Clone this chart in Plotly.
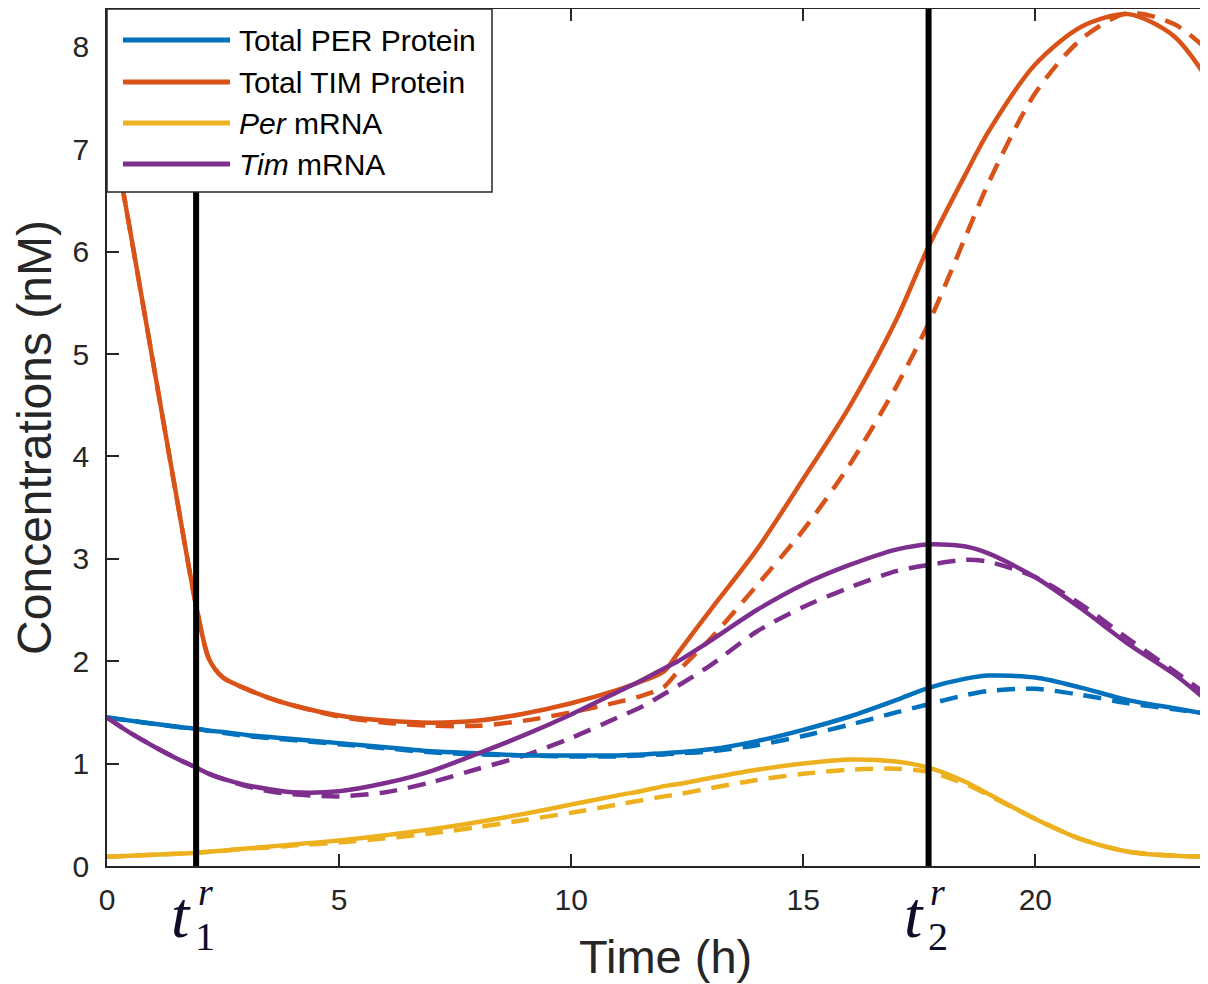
import plotly.graph_objects as go

# ---------------- data ----------------
time_h = [0, 0.5, 1, 1.5, 1.93, 2.2, 2.5, 3, 3.5, 4, 5, 6, 7, 8, 9, 10, 11, 11.5, 12, 12.3,
          13, 14, 15, 16, 17, 17.7, 18.5, 19, 20, 21, 22, 23, 24]

per_prot = [1.45, 1.42, 1.39, 1.36, 1.34, 1.32, 1.31, 1.28, 1.26, 1.24, 1.20, 1.16, 1.12, 1.10, 1.08, 1.08,
            1.08, 1.09, 1.10, 1.11, 1.14, 1.22, 1.33, 1.46, 1.62, 1.74, 1.83, 1.86, 1.84, 1.74, 1.62, 1.54, 1.46]
per_prot_fit = [1.45, 1.42, 1.39, 1.36, 1.34, 1.32, 1.30, 1.27, 1.25, 1.23, 1.19, 1.15, 1.11, 1.09, 1.08, 1.07,
                1.07, 1.08, 1.09, 1.10, 1.12, 1.18, 1.27, 1.38, 1.50, 1.58, 1.67, 1.71, 1.73, 1.67, 1.59, 1.53, 1.47]

tim_prot = [7.48, 6.20, 4.90, 3.60, 2.52, 2.02, 1.84, 1.73, 1.64, 1.57, 1.47, 1.42, 1.40, 1.42, 1.49, 1.59,
            1.72, 1.80, 1.90, 2.08, 2.50, 3.09, 3.78, 4.49, 5.33, 6.05, 6.76, 7.18, 7.83, 8.20, 8.32, 8.10, 7.48]
tim_prot_fit = [7.48, 6.20, 4.90, 3.60, 2.52, 2.02, 1.84, 1.73, 1.64, 1.57, 1.46, 1.40, 1.37, 1.37, 1.42, 1.50,
                1.60, 1.66, 1.75, 1.90, 2.22, 2.74, 3.28, 3.92, 4.68, 5.30, 6.15, 6.68, 7.55, 8.08, 8.33, 8.22, 7.85]

per_mrna = [0.09, 0.10, 0.11, 0.12, 0.13, 0.14, 0.15, 0.17, 0.19, 0.21, 0.25, 0.30, 0.36, 0.43, 0.51, 0.60,
            0.69, 0.73, 0.78, 0.80, 0.86, 0.94, 1.00, 1.04, 1.02, 0.96, 0.82, 0.70, 0.46, 0.26, 0.14, 0.10, 0.09]
per_mrna_fit = [0.09, 0.10, 0.11, 0.12, 0.13, 0.14, 0.15, 0.17, 0.18, 0.20, 0.23, 0.27, 0.32, 0.38, 0.45, 0.52,
                0.60, 0.64, 0.68, 0.70, 0.76, 0.84, 0.90, 0.94, 0.95, 0.92, 0.80, 0.69, 0.46, 0.26, 0.14, 0.10, 0.09]

tim_mrna = [1.45, 1.30, 1.17, 1.05, 0.96, 0.90, 0.85, 0.79, 0.75, 0.72, 0.73, 0.81, 0.93, 1.10, 1.28, 1.48,
            1.70, 1.81, 1.93, 2.00, 2.20, 2.50, 2.75, 2.94, 3.09, 3.14, 3.12, 3.05, 2.82, 2.51, 2.17, 1.87, 1.50]
tim_mrna_fit = [1.45, 1.30, 1.17, 1.05, 0.96, 0.90, 0.85, 0.78, 0.73, 0.70, 0.68, 0.72, 0.82, 0.95, 1.08, 1.25,
                1.45, 1.55, 1.68, 1.76, 1.96, 2.29, 2.53, 2.72, 2.88, 2.94, 2.99, 2.97, 2.82, 2.55, 2.22, 1.90, 1.58]

series_names = ["Total PER Protein", "Total TIM Protein", "<i>Per</i> mRNA", "<i>Tim</i> mRNA"]
series_colors = ["#0072BD", "#D95319", "#EDB120", "#7E2F8E"]
solid_series = [per_prot, tim_prot, per_mrna, tim_mrna]
dashed_series = [per_prot_fit, tim_prot_fit, per_mrna_fit, tim_mrna_fit]

reset_times = [1.92, 17.70]
reset_labels = ["1", "2"]

x_range = [0, 24]
y_range = [0, 8.37]
x_ticks = [0, 5, 10, 15, 20]
y_ticks = [0, 1, 2, 3, 4, 5, 6, 7, 8]
x_title = "Time (h)"
y_title = "Concentrations (nM)"

# ---------------- layout geometry ----------------
# the page body adds an 8 px offset; the axes box runs past the window's right edge
OFF = 8
PX_PER_H = 46.4
W, H = 1218, 984
ML, MT, MB = 107 - OFF, 9 - OFF, (H + OFF) - 866
MR = W - ML - int(round(PX_PER_H * x_range[1]))
PW, PH = W - ML - MR, H - MT - MB
AX = "#262626"
FONT = "Liberation Sans, Arial, sans-serif"


def px_x(sx):
    return (sx - OFF - ML) / PW


def px_y(sy):
    return (H - MB - (sy - OFF)) / PH


fig = go.Figure()

LW = 4.5
for name, col, ys in zip(series_names, series_colors, dashed_series):
    fig.add_trace(go.Scatter(x=time_h, y=ys, mode="lines", showlegend=False,
                             line=dict(color=col, width=LW, dash="18px,11px", shape="spline", smoothing=0.8)))
for name, col, ys in zip(series_names, series_colors, solid_series):
    fig.add_trace(go.Scatter(x=time_h, y=ys, mode="lines", name=name, showlegend=False,
                             line=dict(color=col, width=LW, shape="spline", smoothing=0.8)))

for t in reset_times:
    fig.add_trace(go.Scatter(x=[t, t], y=y_range, mode="lines", showlegend=False,
                             line=dict(color="black", width=6)))

shapes = []
annotations = []

# manual legend (MATLAB style long line samples)
shapes.append(dict(type="rect", xref="paper", yref="paper", layer="above",
                   x0=px_x(107), x1=px_x(492), y0=px_y(192), y1=px_y(9),
                   fillcolor="white", line=dict(color=AX, width=1.5)))
row_y = [40, 82, 123, 164]
for ry, name, col in zip(row_y, series_names, series_colors):
    shapes.append(dict(type="line", xref="paper", yref="paper", layer="above",
                       x0=px_x(123), x1=px_x(230), y0=px_y(ry), y1=px_y(ry),
                       line=dict(color=col, width=5)))
    annotations.append(dict(xref="paper", yref="paper", x=px_x(237), y=px_y(ry + 1),
                            xanchor="left", yanchor="middle", showarrow=False, text=name,
                            font=dict(family=FONT, size=30, color="#000000")))

# x axis title
annotations.append(dict(xref="paper", yref="paper", x=px_x(665), y=px_y(956),
                        xanchor="center", yanchor="middle", showarrow=False, text=x_title,
                        font=dict(family=FONT, size=47, color=AX)))

# t^r_i labels under reset lines
SERIF = "Liberation Serif, Times New Roman, serif"
LBL = "#0d0d2a"
for t, idx in zip(reset_times, reset_labels):
    annotations.append(dict(xref="x", yref="paper", x=t, xshift=-15, y=px_y(914),
                            xanchor="center", yanchor="middle", showarrow=False,
                            text="<i>t</i>", font=dict(family=SERIF, size=66, color=LBL)))
    annotations.append(dict(xref="x", yref="paper", x=t, xshift=9, y=px_y(915),
                            xanchor="center", yanchor="bottom", showarrow=False,
                            text="<i>r</i>", font=dict(family=SERIF, size=38, color=LBL)))
    annotations.append(dict(xref="x", yref="paper", x=t, xshift=9, y=px_y(912),
                            xanchor="center", yanchor="top", showarrow=False,
                            text=idx, font=dict(family=SERIF, size=40, color=LBL)))

fig.update_layout(
    width=W, height=H,
    margin=dict(l=ML, r=MR, t=MT, b=MB, autoexpand=False),
    paper_bgcolor="white", plot_bgcolor="white",
    font=dict(family=FONT, color=AX),
    showlegend=False,
    shapes=shapes, annotations=annotations,
)
fig.update_xaxes(range=x_range, tickvals=x_ticks, ticks="inside", ticklen=12, tickwidth=1.5,
                 tickcolor=AX, showline=True, linecolor=AX, linewidth=1.5, mirror="ticks",
                 showgrid=False, zeroline=False, tickfont=dict(size=30, color=AX),
                 ticklabelstandoff=6, automargin=False)
fig.update_yaxes(range=y_range, tickvals=y_ticks, ticks="inside", ticklen=12, tickwidth=1.5,
                 tickcolor=AX, showline=True, linecolor=AX, linewidth=1.5, mirror="ticks",
                 showgrid=False, zeroline=False, tickfont=dict(size=30, color=AX),
                 ticklabelstandoff=10, automargin=False,
                 title=dict(text=y_title, font=dict(size=48, color=AX), standoff=8))

fig.write_html("out.html")
